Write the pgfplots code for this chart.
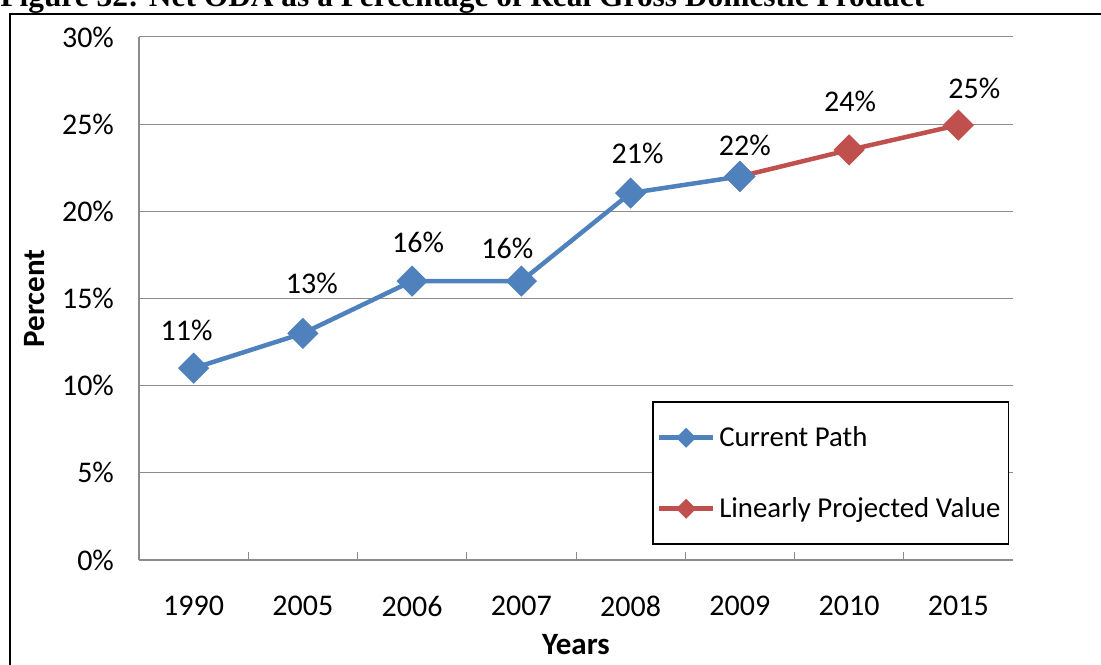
\documentclass[border=0pt]{standalone}
\usepackage{pgfplots}
\pgfplotsset{compat=1.18}
\usepackage{fontspec}
\setmainfont{Carlito}
\newfontfamily\titlefont{Liberation Serif}
\definecolor{cpblue}{HTML}{4F81BD}
\definecolor{cpred}{HTML}{C0504D}
\definecolor{gridgray}{HTML}{8C8C8C}
\newcommand\lab[3]{\raisebox{\dimexpr#2-4.5pt\relax}[0pt][0pt]{\makebox[0pt]{\hspace{#1}\hspace{#1}#3}}}
\begin{document}
\begin{tikzpicture}[x=1pt,y=1pt]
\path[use as bounding box] (0,0) rectangle (550.5,332);
\node[anchor=base west, inner sep=0, font=\titlefont\bfseries\fontsize{15.7}{17}\selectfont] at (0,328.5) {Figure 32: Net ODA as a Percentage of Real Gross Domestic Product};
\draw[line width=1.25pt] (5,-5) -- (5,325) -- (560,325);
\begin{axis}[
 at={(69.5pt,52pt)}, anchor=south west, scale only axis, width=437pt, height=261.5pt,
 xmin=-0.5, xmax=7.5, ymin=0, ymax=30,
 xtick={0,...,7}, xticklabels={1990,2005,2006,2007,2008,2009,2010,2015},
 minor xtick={0.5,1.5,...,6.5},
 ytick={0,5,...,30}, yticklabels={0\%,5\%,10\%,15\%,20\%,25\%,30\%},
 /pgf/number format/assume math mode=true,
 major tick length=0pt, minor tick length=4pt, tick align=inside,
 minor tick style={gridgray, line width=0.5pt},
 axis x line*=bottom, axis y line*=left, axis line style={-, draw=gridgray, line width=0.6pt},
 ymajorgrids, major grid style={gridgray, line width=0.5pt},
 font=\fontsize{15}{17}\selectfont,
 tick label style={font=\fontsize{15}{17}\selectfont, black},
 yticklabel style={xshift=-9pt},
 xticklabel style={yshift=-14.5pt},
 ylabel={\textbf{Percent}}, xlabel={\textbf{Years}},
 label style={font=\fontsize{15.5}{17}\selectfont},
 ylabel style={at={(axis description cs:-0.119,0.5)}, anchor=center},
 xlabel style={at={(axis description cs:0.5,-0.1625)}, anchor=center},
 legend style={at={(axis description cs:0.587,0.0287)}, anchor=south west, draw=black, line width=0.75pt, fill=white, inner xsep=2pt, inner ysep=10pt, row sep=20pt, font=\fontsize{14.4}{16}\selectfont, cells={anchor=west}},
 legend image code/.code={\draw[#1, mark repeat=2, mark phase=2, /tikz/every mark/.append style={scale=0.55}] plot coordinates {(0pt,0pt)(13.5pt,0pt)(27pt,0pt)};},
 reverse legend,
 nodes near coords style={inner sep=0pt, black, font=\fontsize{15}{17}\selectfont},
]
\addplot[cpred, line width=2.25pt, mark=square*, mark size=4.4pt, mark options={rotate=45, solid}, nodes near coords, point meta=explicit symbolic]
 coordinates {(5,22) [\mbox{}] (6,23.52) [\lab{0.5pt}{22pt}{24\%}] (7,24.95) [\lab{8pt}{16pt}{25\%}]};
\addlegendentry{Linearly Projected Value}
\addplot[cpblue, line width=2.25pt, mark=square*, mark size=4.4pt, mark options={rotate=45, solid}, nodes near coords, point meta=explicit symbolic]
 coordinates {(0,11) [\lab{-3.5pt}{16.5pt}{11\%}] (1,13) [\lab{4.5pt}{23pt}{13\%}] (2,16) [\lab{3pt}{17pt}{16\%}] (3,16) [\lab{-7pt}{14pt}{16\%}] (4,21.05) [\lab{3.5pt}{17.5pt}{21\%}] (5,22) [\lab{2.5pt}{13.5pt}{22\%}]};
\addlegendentry{Current Path}
\end{axis}
\end{tikzpicture}
\end{document}
